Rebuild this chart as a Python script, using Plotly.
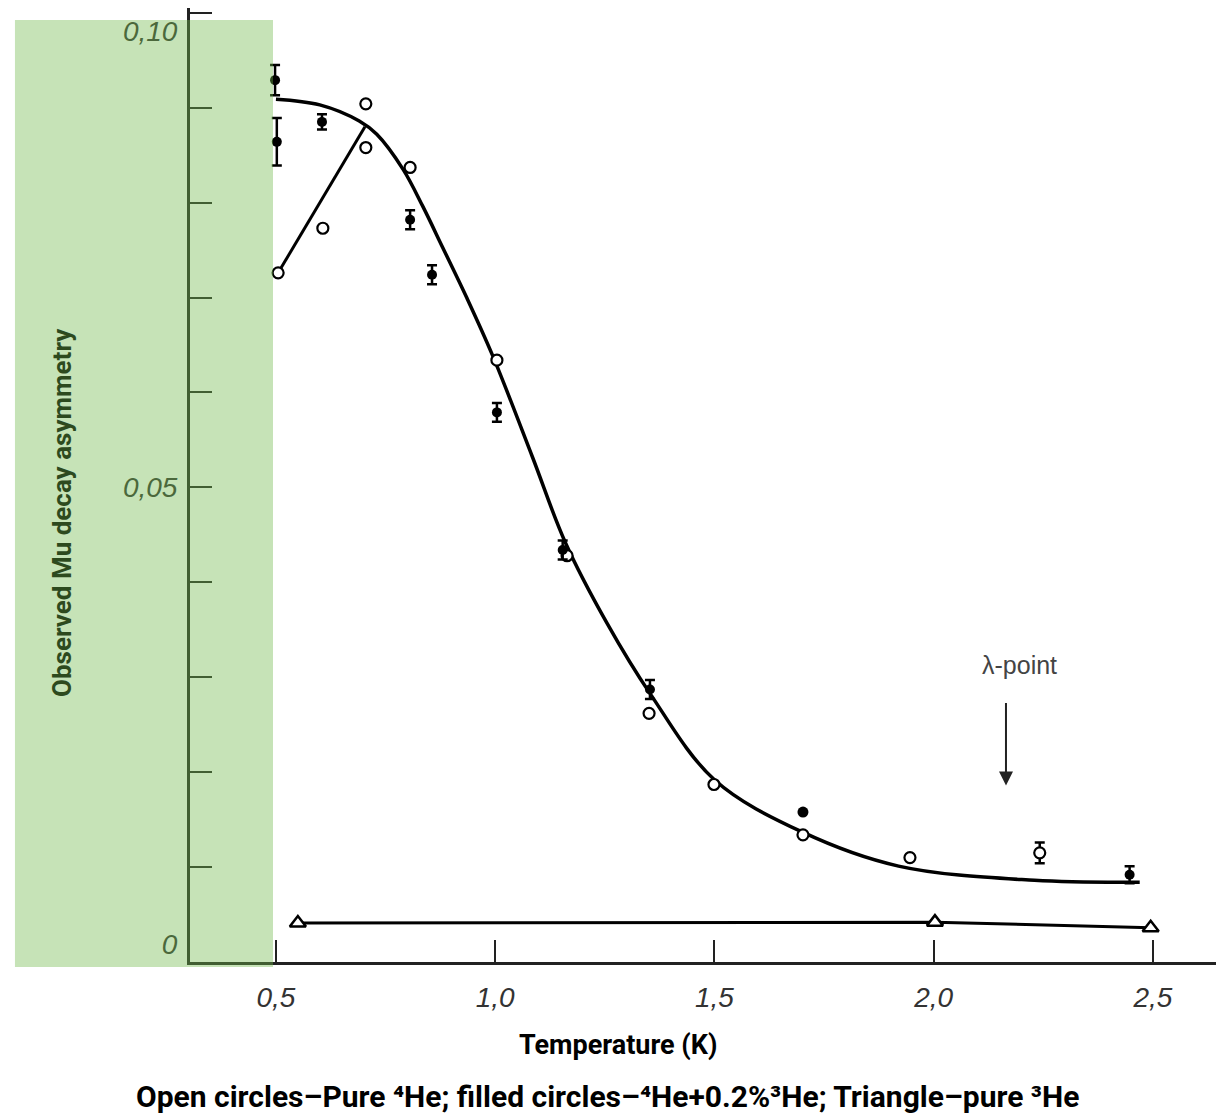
import plotly.graph_objects as go

# ---- data ----
fit_T = [0.50, 0.60, 0.69, 0.73, 0.79, 0.835, 0.88, 0.935, 0.995, 1.085, 1.16, 1.255, 1.353, 1.50, 1.70, 1.92, 2.23, 2.47]
fit_A = [0.0909, 0.0903, 0.0886, 0.0872, 0.0835, 0.0796, 0.0753, 0.0700, 0.0638, 0.0532, 0.0442, 0.0357, 0.0283, 0.0192, 0.0137, 0.0101, 0.0086, 0.0084]

low_T = [0.505, 0.703]
low_A = [0.0726, 0.0880]

open_T = [0.505, 0.607, 0.705, 0.705, 0.806, 1.004, 1.164, 1.351, 1.499, 1.702, 1.946]
open_A = [0.0726, 0.0773, 0.0904, 0.0858, 0.0837, 0.0634, 0.0428, 0.0262, 0.0187, 0.0134, 0.0110]
open_err_T = [2.242]
open_err_A = [0.0115]
open_err_E = [0.0011]

fill_T = [0.498, 0.502, 0.605, 0.806, 0.856, 1.004, 1.154, 1.353, 2.447]
fill_A = [0.0929, 0.0864, 0.0885, 0.0782, 0.0724, 0.0579, 0.0434, 0.0287, 0.0092]
fill_E = [0.0016, 0.0025, 0.0008, 0.0010, 0.0010, 0.0010, 0.0010, 0.0010, 0.0009]
fill_noerr_T = [1.702]
fill_noerr_A = [0.0158]

tri_T = [0.55, 2.003, 2.495]
tri_A = [0.0041, 0.0042, 0.0036]

y_ticks = [0.0, 0.01, 0.02, 0.03, 0.04, 0.05, 0.06, 0.07, 0.08, 0.09, 0.10]
y_ticktext = ["0<br> ", "", "", "", "", "0,05", "", "", "", "", " <br>0,10"]
x_ticks = [0.5, 1.0, 1.5, 2.0, 2.5]
x_ticktext = ["0,5", "1,0", "1,5", "2,0", "2,5"]

lambda_T = 2.165

COND = "Roboto, Liberation Sans, sans-serif"

fig = go.Figure()

fig.add_trace(go.Scatter(x=fit_T, y=fit_A, mode="lines", line=dict(color="black", width=3.5, shape="spline", smoothing=1.0), hoverinfo="skip"))
fig.add_trace(go.Scatter(x=low_T, y=low_A, mode="lines", line=dict(color="black", width=3), hoverinfo="skip"))
fig.add_trace(go.Scatter(x=tri_T, y=tri_A, mode="lines+markers",
                         line=dict(color="black", width=3),
                         marker=dict(symbol="triangle-up", size=14, color="white", line=dict(color="black", width=2.5))))
fig.add_trace(go.Scatter(x=open_T, y=open_A, mode="markers",
                         marker=dict(symbol="circle", size=11, color="white", line=dict(color="black", width=2.2))))
fig.add_trace(go.Scatter(x=open_err_T, y=open_err_A, mode="markers",
                         error_y=dict(type="data", array=open_err_E, color="black", thickness=2.5, width=5),
                         marker=dict(symbol="circle", size=11, color="white", line=dict(color="black", width=2.2))))
fig.add_trace(go.Scatter(x=fill_T, y=fill_A, mode="markers",
                         error_y=dict(type="data", array=fill_E, color="black", thickness=2.5, width=5),
                         marker=dict(symbol="circle", size=10, color="black")))
fig.add_trace(go.Scatter(x=fill_noerr_T, y=fill_noerr_A, mode="markers",
                         marker=dict(symbol="circle", size=11, color="black")))

# lambda-point arrow and label
fig.add_annotation(x=lambda_T, y=0.0186, xref="x", yref="y", text="", showarrow=True,
                   ax=0, ay=-84, axref="pixel", ayref="pixel",
                   arrowhead=2, arrowsize=1.4, arrowwidth=2, arrowcolor="#222")
fig.add_annotation(x=lambda_T, y=0.0313, xref="x", yref="y", text="λ-point", showarrow=False,
                   xshift=14, font=dict(family="Liberation Sans, Arial, sans-serif", size=25, color="#444"))

# titles
fig.add_annotation(x=0.417, y=-0.0870, xref="paper", yref="paper", text="Temperature (K)", showarrow=False,
                   yanchor="middle", font=dict(family=COND, size=27, color="black", weight="bold"))
fig.add_annotation(x=0.407, y=-0.1415, xref="paper", yref="paper",
                   text="Open circles–Pure ⁴He; filled circles–⁴He+0.2%³He; Triangle–pure ³He",
                   showarrow=False, yanchor="middle", font=dict(family=COND, size=30, color="black", weight="bold"))
fig.add_annotation(x=-0.1248, y=0.4717, xref="paper", yref="paper", text="Observed Mu decay asymmetry",
                   showarrow=False, textangle=-90, xanchor="center", yanchor="middle",
                   font=dict(family=COND, size=26, color="#2d4a1e", weight="bold"))

# green highlight band
fig.add_shape(type="rect", xref="paper", yref="paper", x0=-0.1706, x1=0.0809, y0=-0.0052, y1=0.9874,
              fillcolor="rgb(112,185,75)", opacity=0.4, line=dict(width=0), layer="above")

fig.update_layout(
    width=1216, height=1119,
    margin=dict(l=190, r=0, t=8, b=157, autoexpand=False),
    paper_bgcolor="white", plot_bgcolor="white",
    showlegend=False,
    xaxis=dict(range=[0.304, 2.644], tickvals=x_ticks, ticktext=x_ticktext, automargin=False,
               ticks="inside", ticklen=22, tickwidth=2, tickcolor="#222",
               showline=True, linecolor="#222", linewidth=3, showgrid=False, zeroline=False,
               ticklabelstandoff=8,
               tickfont=dict(family="Liberation Sans, DejaVu Sans, sans-serif", size=28, color="#333", style="italic")),
    yaxis=dict(range=[0, 0.1005], tickvals=y_ticks, ticktext=y_ticktext, automargin=False,
               ticks="inside", ticklen=22, tickwidth=2, tickcolor="#222",
               showline=True, linecolor="#222", linewidth=3, showgrid=False, zeroline=False,
               ticklabelstandoff=4, ticklabeloverflow="allow",
               tickfont=dict(family="Liberation Sans, DejaVu Sans, sans-serif", size=28, color="#333", style="italic")),
)

fig.write_html("out.html")
